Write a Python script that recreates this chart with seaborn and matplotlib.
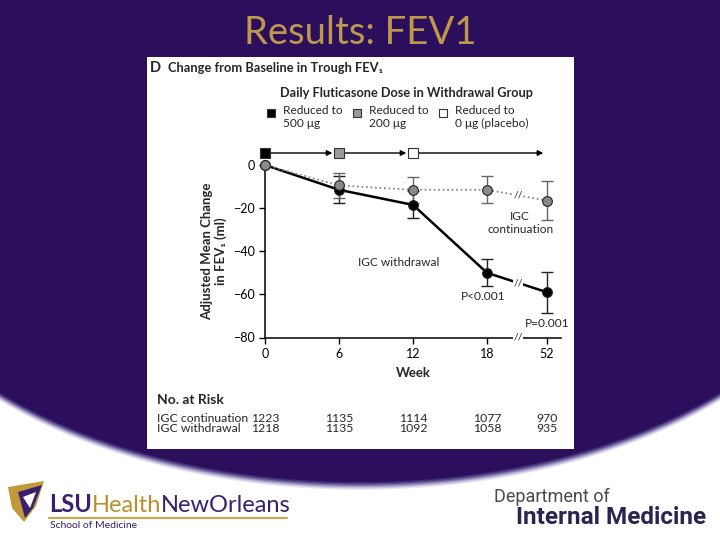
import numpy as np
import pandas as pd
import matplotlib
matplotlib.use("Agg")
import matplotlib.pyplot as plt
import matplotlib.transforms as mtransforms
from matplotlib.patches import Rectangle, Polygon
import seaborn as sns

# ---- data ----
weeks = [0, 6, 12, 18, 52]
week_pos = [0, 1, 2, 3, 3.81]          # week 52 sits after the axis break
cont_mean = [0, -9.5, -11.5, -11.5, -16.5]
cont_err = [0, 6.0, 6.0, 6.3, 9.2]
wd_mean = [0, -11.5, -18.5, -50, -59]
wd_err = [0, 6.3, 6.3, 6.3, 9.5]
risk_cont = [1223, 1135, 1114, 1077, 970]
risk_wd = [1218, 1135, 1092, 1058, 935]
dose_pos = [0, 1, 2]                   # weeks 0, 6, 12
dose_labels = ["Reduced to\n500 μg", "Reduced to\n200 μg", "Reduced to\n0 μg (placebo)"]
dose_colors = ["black", "#9a9a9a", "white"]
y_ticks = [0, -20, -40, -60, -80]
break_pos = 3.42

PURPLE = "#2b0f5c"
GOLD = "#bf984c"

sns.set_style("ticks")
plt.rcParams["font.family"] = ["Lato", "DejaVu Sans"]

fig = plt.figure(figsize=(7.2, 5.4), dpi=100)
fig.patch.set_facecolor(PURPLE)

# slide background in pixel coordinates
bg = fig.add_axes([0, 0, 1, 1])
bg.set_xlim(0, 720)
bg.set_ylim(540, 0)
bg.axis("off")

xs = np.linspace(0, 720, 400)
edge = 191 + 291 * np.sqrt(np.clip(1 - ((xs - 360) / 500) ** 2, 0, None))
fade = ["#3e2a74", "#58488c", "#7d70a8", "#a69dc6", "#cbc5e0", "#e8e5f2", "white"]
for k, c in enumerate(fade):
    bg.fill_between(xs, edge + k * 1.3, 545, color=c, lw=0)

bg.text(360, 33, "Results: FEV1", color=GOLD, fontsize=27.5, ha="center", va="center")

# white figure panel
bg.add_patch(Rectangle((147, 57), 427, 392, color="white", lw=0))
bg.text(150, 68, "D", fontsize=10.5, fontweight="bold", va="center")
bg.text(168, 68, "Change from Baseline in Trough FEV₁", fontsize=9.3, fontweight="bold", va="center")
bg.text(407, 93, "Daily Fluticasone Dose in Withdrawal Group", fontsize=9.2,
        fontweight="bold", ha="center", va="center")
for i, (lab, col) in enumerate(zip(dose_labels, dose_colors)):
    x0 = 271 + i * 86
    bg.plot(x0, 113, marker="s", ms=6, mfc=col, mec="#333333", mew=0.8)
    bg.text(x0 + 12, 105.5, lab, fontsize=8.6, va="top", linespacing=1.15)

# risk table labels
bg.text(157, 400, "No. at Risk", fontsize=10, fontweight="bold", va="center")
bg.text(157, 418, "IGC continuation", fontsize=8.8, va="center")
bg.text(157, 429, "IGC withdrawal", fontsize=8.8, va="center")

# footer logos
bg.add_patch(Polygon([[8, 487], [44, 481], [36, 506], [24, 522], [12, 508]], color="#c09a3a", lw=0))
bg.add_patch(Polygon([[18, 492], [42, 485], [33, 508], [25, 518]], color="#3b1f6e", lw=0))
bg.add_patch(Polygon([[23, 497], [36, 492], [30, 508]], color="white", lw=0))
t1 = bg.text(49, 512, "LSU", fontsize=17, fontweight="bold", color="#3b1f6e", va="baseline")
t2 = bg.annotate("Health", xy=(1, 0), xycoords=t1, fontsize=17, color="#b8902e", va="bottom")
bg.annotate("NewOrleans", xy=(1, 0), xycoords=t2, fontsize=17, color="#3b1f6e", va="bottom")
bg.plot([49, 287], [518, 518], color="#c9a84e", lw=1.5)
bg.text(50, 525, "School of Medicine", fontsize=7.5, color="#3b1f6e", va="center")
bg.text(494, 497, "Department of", fontsize=13, color="#4a4a4a", va="center",
        family=["Roboto", "DejaVu Sans"])
bg.text(516, 517, "Internal Medicine", fontsize=17.5, fontweight="bold", color="#2c2450",
        va="center", family=["Roboto", "DejaVu Sans"])

# ---- chart ----
ax = fig.add_axes([265 / 720, (540 - 337.5) / 540, 296 / 720, 172.5 / 540])
ax.set_facecolor("none")
df = pd.DataFrame({
    "pos": week_pos * 2,
    "val": cont_mean + wd_mean,
    "group": ["IGC continuation"] * 5 + ["IGC withdrawal"] * 5,
})

ax.errorbar(week_pos[1:], wd_mean[1:], yerr=wd_err[1:], fmt="none", ecolor="#222222",
            elinewidth=1, capsize=4, capthick=1, zorder=2)
ax.errorbar(week_pos[1:], cont_mean[1:], yerr=cont_err[1:], fmt="none", ecolor="#666666",
            elinewidth=1, capsize=4, capthick=1, zorder=2)
sns.lineplot(data=df, x="pos", y="val", hue="group", style="group",
             palette={"IGC continuation": "#8a8a8a", "IGC withdrawal": "black"},
             dashes={"IGC continuation": (1, 1.5), "IGC withdrawal": ""},
             markers={"IGC continuation": "o", "IGC withdrawal": "o"},
             markersize=7, markeredgecolor="#222222", markeredgewidth=0.8,
             hue_order=["IGC withdrawal", "IGC continuation"],
             legend=False, clip_on=False, ax=ax, zorder=3)
for line in ax.get_lines():
    if line.get_color() == "black":
        line.set_linewidth(1.8)
    else:
        line.set_linewidth(1.3)

ax.set_xlim(0, 4.0)
ax.set_ylim(-80, 0)
ax.set_xticks(week_pos)
ax.set_xticklabels([str(w) for w in weeks])
ax.set_yticks(y_ticks)
ax.tick_params(direction="out", length=4, width=1, labelsize=9, colors="black")
for s in ["top", "right"]:
    ax.spines[s].set_visible(False)
for s in ["left", "bottom"]:
    ax.spines[s].set_linewidth(1.1)
    ax.spines[s].set_color("black")
ax.set_xlabel("Week", fontsize=9.5, fontweight="bold")
ax.set_ylabel("Adjusted Mean Change\nin FEV₁ (ml)", fontsize=9.5, fontweight="bold", linespacing=1.05)
ax.xaxis.set_label_coords(0.5, -0.17)
ax.yaxis.set_label_coords(-0.13, 0.5)

# axis breaks
for yb in [-80, np.interp(break_pos, week_pos, cont_mean), np.interp(break_pos, week_pos, wd_mean)]:
    ax.text(break_pos, yb, "//", fontsize=7.5, ha="center", va="center", clip_on=False, zorder=4,
            bbox=dict(facecolor="white", edgecolor="none", pad=0.2))

ax.text(3.45, -26.9, "IGC\ncontinuation", fontsize=8.6, ha="center", va="center", linespacing=1.15)
ax.text(1.8, -45, "IGC withdrawal", fontsize=8.6, ha="center", va="center")
ax.text(2.95, -60.8, "P<0.001", fontsize=8.6, ha="center", va="center")
ax.text(3.81, -73.3, "P=0.001", fontsize=8.6, ha="center", va="center")

# dose timeline above the plot
blend = mtransforms.blended_transform_factory(ax.transData, bg.transData)
seg_ends = [dose_pos[1] - 0.09, dose_pos[2] - 0.09, 3.76]
for start, end in zip(dose_pos, seg_ends):
    ax.annotate("", xy=(end, 153), xytext=(start, 153), xycoords=blend, textcoords=blend,
                arrowprops=dict(arrowstyle="-|>", color="black", lw=1, mutation_scale=8,
                                shrinkA=0, shrinkB=0), annotation_clip=False)
for p, col in zip(dose_pos, dose_colors):
    ax.plot(p, 153, marker="s", ms=7.5, mfc=col, mec="#333333", mew=0.8,
            transform=blend, clip_on=False, zorder=5)

# risk table numbers under the week ticks
for p, a, b in zip(week_pos, risk_cont, risk_wd):
    ax.text(p, 418, str(a), fontsize=8.8, ha="center", va="center", transform=blend)
    ax.text(p, 429, str(b), fontsize=8.8, ha="center", va="center", transform=blend)

fig.savefig("out.png", dpi=100, facecolor=fig.get_facecolor())
